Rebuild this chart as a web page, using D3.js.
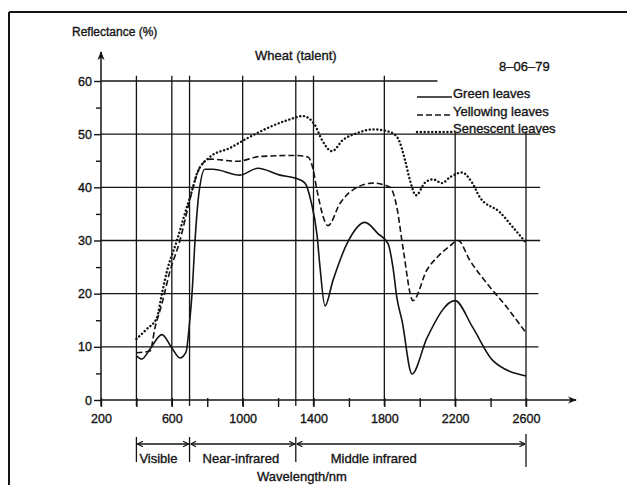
<!DOCTYPE html>
<html>
<head>
<meta charset="utf-8">
<script src="https://cdn.jsdelivr.net/npm/d3@7"></script>
<style>
  html, body { margin: 0; padding: 0; background: #fff; }
  svg { display: block; }
  text { font-family: "Liberation Sans", Arial, Helvetica, sans-serif; fill: #141414; stroke: #141414; stroke-width: 0.35px; }
</style>
</head>
<body>
<svg id="chart" width="627" height="485"></svg>
<script>
// ---- Data (wavelength nm, reflectance %) ----
const green = [
  [400, 8.3], [430, 7.7], [477, 9.6], [544, 12.3], [600, 9.8], [646, 7.9], [680, 9.0],
  [700, 14.5], [714, 20], [731, 30], [753, 38.9], [787, 43.4], [832, 43.4], [985, 42.3],
  [1086, 43.6], [1211, 42.3], [1300, 41.7], [1352, 40.8], [1385, 37.5], [1420, 31],
  [1437, 24.9], [1465, 17.7], [1510, 22.5], [1589, 29.4], [1691, 33.4], [1764, 31.3],
  [1821, 29.4], [1849, 24.9], [1871, 19.2], [1900, 14.9], [1956, 4.9], [2041, 11.7],
  [2199, 18.7], [2300, 13.6], [2413, 7.4], [2600, 4.5]
];
const yellowing = [
  [400, 8.9], [477, 9.2], [505, 13.6], [544, 18.1], [590, 24.3], [646, 30], [691, 36.2],
  [731, 41.3], [759, 43.8], [815, 45.3], [968, 44.9], [1098, 45.8], [1300, 46], [1369, 45.7],
  [1397, 43.5], [1420, 39.4], [1482, 32.8], [1550, 37], [1646, 40], [1736, 40.8],
  [1832, 40], [1871, 36.2], [1905, 28.7], [1962, 18.7], [2041, 24.5], [2097, 26.8],
  [2171, 29], [2216, 30], [2284, 26.2], [2380, 21.9], [2493, 17.4], [2600, 12.6]
];
const senescent = [
  [400, 11.5], [460, 13.4], [516, 15.5], [544, 20], [573, 24.3], [629, 30], [674, 35.1],
  [714, 39.4], [742, 42.6], [815, 45.7], [928, 47.4], [1024, 49.2], [1137, 51.1],
  [1250, 52.6], [1341, 53.4], [1408, 51.7], [1448, 48.9], [1504, 46.8], [1566, 48.9],
  [1646, 50.2], [1736, 50.9], [1832, 50.4], [1877, 49.2], [1917, 45.1], [1945, 41.3],
  [1979, 38.5], [2030, 40.9], [2075, 41.5], [2125, 40.8], [2171, 41.9], [2238, 42.8],
  [2295, 40.9], [2340, 38.1], [2453, 35.3], [2526, 32.5], [2600, 29.6]
];
const seriesNames = ["Green leaves", "Yellowing leaves", "Senescent leaves"];
const xTickLabels = [200, 600, 1000, 1400, 1800, 2200, 2600];
const xAllTicks = [200, 400, 600, 800, 1000, 1200, 1400, 1600, 1800, 2000, 2200, 2400, 2600];
const yTickLabels = [0, 10, 20, 30, 40, 50, 60];
const yMinorTicks = [5, 15, 25, 35, 45, 55];
const gridXValues = [400, 600, 700, 1000, 1300, 1400, 1800, 2200, 2600];
const gridXTop = [61, 61, 61, 61, 61, 61, 61, 50.5, 50.5];
const gridYValues = [10, 20, 30, 40, 50, 60];
const gridYEnd = [2670, 2670, 2680, 2680, 2680, 2100];
const regionNames = ["Visible", "Near-infrared", "Middle infrared"];
const regionBounds = [400, 700, 1300, 2600];
const title = "Wheat (talent)";
const dateLabel = "8\u201306\u201379";
const yTitle = "Reflectance (%)";
const xTitle = "Wavelength/nm";

// ---- Drawing ----
const svg = d3.select("#chart");
const ink = "#141414";
const x = d3.scaleLinear().domain([200, 2600]).range([101, 526]);
const y = d3.scaleLinear().domain([0, 60]).range([400, 81]);

// frame (scan border)
svg.append("line").attr("x1", 9).attr("x2", 627).attr("y1", 12).attr("y2", 12)
  .attr("stroke", ink).attr("stroke-width", 2);
svg.append("line").attr("x1", 9).attr("x2", 9).attr("y1", 12).attr("y2", 485)
  .attr("stroke", ink).attr("stroke-width", 2);

const defs = svg.append("defs");
defs.append("marker").attr("id", "arrowHead").attr("viewBox", "0 0 10 10")
  .attr("refX", 9).attr("refY", 5).attr("markerWidth", 9).attr("markerHeight", 9)
  .attr("markerUnits", "userSpaceOnUse").attr("orient", "auto")
  .append("path").attr("d", "M0,1 L10,5 L0,9 L3,5 Z").attr("fill", ink);
defs.append("marker").attr("id", "chev").attr("viewBox", "0 0 10 10")
  .attr("refX", 10).attr("refY", 5).attr("markerWidth", 7).attr("markerHeight", 7)
  .attr("markerUnits", "userSpaceOnUse").attr("orient", "auto-start-reverse")
  .append("path").attr("d", "M2,1 L10,5 L2,9").attr("fill", "none").attr("stroke", ink).attr("stroke-width", 1.6);

// gridlines
const grid = svg.append("g").attr("stroke", ink).attr("stroke-width", 1.3);
gridYValues.forEach((v, i) => {
  grid.append("line").attr("x1", x(200)).attr("x2", x(gridYEnd[i]))
    .attr("y1", y(v)).attr("y2", y(v));
});
gridXValues.forEach((v, i) => {
  grid.append("line").attr("x1", x(v)).attr("x2", x(v))
    .attr("y1", y(0) + 6).attr("y2", y(gridXTop[i]));
});

// x axis
const xAxis = d3.axisBottom(x).tickValues(xAllTicks).tickSize(7)
  .tickFormat(d => xTickLabels.includes(d) ? d : "");
const gx = svg.append("g").attr("transform", `translate(0,${y(0)})`).call(xAxis);
gx.select(".domain").remove();
gx.selectAll(".tick line").attr("stroke", ink).attr("stroke-width", 1.4).attr("y1", -2);
gx.selectAll(".tick text").attr("font-size", 12.5).attr("dy", 0).attr("y", 23)
  .attr("font-family", "Liberation Sans, Arial, sans-serif").attr("fill", ink);
svg.append("line").attr("x1", x(200)).attr("x2", 576).attr("y1", y(0)).attr("y2", y(0))
  .attr("stroke", ink).attr("stroke-width", 1.5).attr("marker-end", "url(#arrowHead)");

// y axis
const yAxis = d3.axisLeft(y).tickValues(yTickLabels).tickSize(7).tickPadding(2);
const gy = svg.append("g").attr("transform", `translate(${x(200)},0)`).call(yAxis);
gy.select(".domain").remove();
gy.selectAll(".tick line").attr("stroke", ink).attr("stroke-width", 1.4);
gy.selectAll(".tick text").attr("font-size", 12.5)
  .attr("font-family", "Liberation Sans, Arial, sans-serif").attr("fill", ink);
const yMinor = d3.axisLeft(y).tickValues(yMinorTicks).tickSize(5).tickFormat("");
const gym = svg.append("g").attr("transform", `translate(${x(200)},0)`).call(yMinor);
gym.select(".domain").remove();
gym.selectAll(".tick line").attr("stroke", ink).attr("stroke-width", 1.4);
svg.append("line").attr("x1", x(200)).attr("x2", x(200)).attr("y1", y(0) + 6).attr("y2", 52)
  .attr("stroke", ink).attr("stroke-width", 1.5).attr("marker-end", "url(#arrowHead)");

// curves
const line = d3.line().x(d => x(d[0])).y(d => y(d[1])).curve(d3.curveMonotoneX);
const styles = [
  { w: 1.6, dash: null, cap: "butt" },
  { w: 1.6, dash: "6,3", cap: "butt" },
  { w: 2.4, dash: "0.1,3.7", cap: "round" }
];
[green, yellowing, senescent].forEach((s, i) => {
  svg.append("path").datum(s).attr("d", line).attr("fill", "none")
    .attr("stroke", ink).attr("stroke-width", styles[i].w)
    .attr("stroke-dasharray", styles[i].dash).attr("stroke-linecap", styles[i].cap);
});

// legend
const legY = [97, 115, 132];
seriesNames.forEach((n, i) => {
  svg.append("line").attr("x1", 417).attr("x2", 452).attr("y1", legY[i]).attr("y2", legY[i])
    .attr("stroke", ink).attr("stroke-width", styles[i].w)
    .attr("stroke-dasharray", styles[i].dash).attr("stroke-linecap", styles[i].cap);
  svg.append("text").attr("x", 453).attr("y", legY[i] + 1).attr("font-size", 13).text(n);
});

// texts
svg.append("text").attr("x", 72).attr("y", 36).attr("font-size", 12).text(yTitle);
svg.append("text").attr("x", 255).attr("y", 60).attr("font-size", 13).text(title);
svg.append("text").attr("x", 499).attr("y", 71).attr("font-size", 13).text(dateLabel);
svg.append("text").attr("x", 302).attr("y", 481).attr("font-size", 13)
  .attr("text-anchor", "middle").text(xTitle);

// region brackets
const by = 444;
const br = svg.append("g");
const labelOffsets = [3, 13, 35];
regionNames.forEach((n, i) => {
  const a = regionBounds[i], b = regionBounds[i + 1];
  br.append("line").attr("x1", x(a) + 1).attr("x2", x(b) - 1).attr("y1", by).attr("y2", by)
    .attr("stroke", ink).attr("stroke-width", 1.3)
    .attr("marker-start", "url(#chev)").attr("marker-end", "url(#chev)");
  br.append("text").attr("x", x(a) + labelOffsets[i]).attr("y", 463)
    .attr("font-size", 13).text(n);
});
regionBounds.forEach((v, i) => {
  const last = i === regionBounds.length - 1;
  br.append("line").attr("x1", x(v)).attr("x2", x(v))
    .attr("y1", last ? 434 : 437).attr("y2", last ? 467 : 462)
    .attr("stroke", ink).attr("stroke-width", 1.3);
});
</script>
</body>
</html>
